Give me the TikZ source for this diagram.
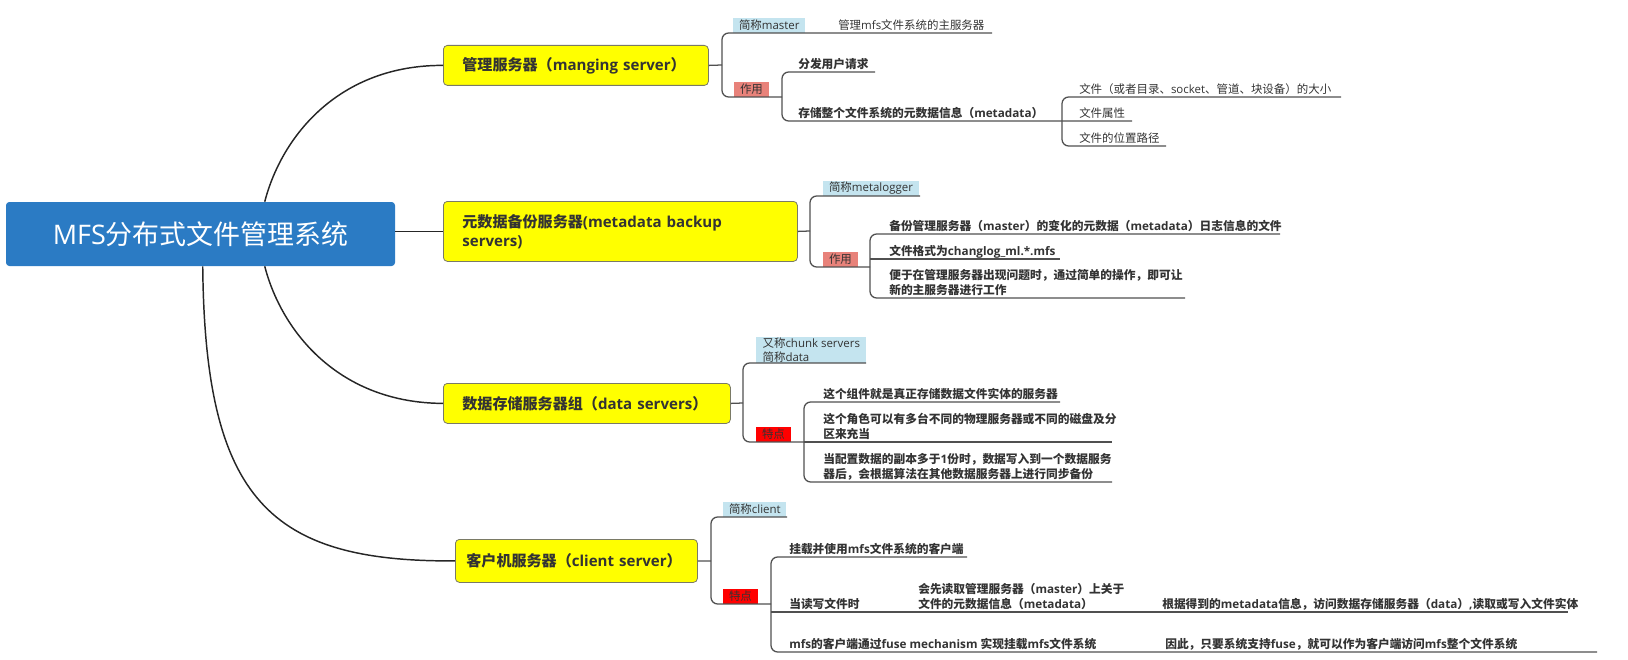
\documentclass[tikz,border=0pt]{standalone}
\usepackage{fontspec}
\setmainfont{Open Sans}
\newfontfamily\cjk{Noto Sans CJK SC}
\newfontfamily\latin{Open Sans}
\newXeTeXintercharclass\cjkclass
\makeatletter
\def\setcjkrange#1#2{\count@=#1\relax\loop\XeTeXcharclass\count@=\cjkclass\advance\count@\@ne\ifnum\count@<#2\repeat}
\makeatother
\setcjkrange{"4E00}{"A000}
\setcjkrange{"3000}{"3040}
\setcjkrange{"FF00}{"FFF0}
\XeTeXinterchartoks 0 \cjkclass={\cjk}
\XeTeXinterchartoks 4095 \cjkclass={\cjk}
\XeTeXinterchartoks \cjkclass 0={\latin}
\XeTeXinterchartoks \cjkclass 4095={\latin}
\XeTeXinterchartokenstate=1
\newcommand\mlines[1]{\begin{tabular}[b]{@{}l@{}}#1\end{tabular}}
\definecolor{rootblue}{HTML}{2B7BC4}
\definecolor{mainyellow}{HTML}{FFFF00}
\definecolor{boxgray}{HTML}{7A7A66}
\definecolor{txt}{HTML}{333333}
\definecolor{tagblue}{HTML}{C4E4EF}
\definecolor{tagsalmon}{HTML}{E8827A}
\definecolor{tagred}{HTML}{FF0000}
\definecolor{lncol}{HTML}{505050}
\begin{document}
\begin{tikzpicture}[x=0.75pt,y=-0.75pt,
  rootbox/.style={fill=rootblue, rounded corners=2.5pt, minimum width=291.75pt, minimum height=48pt, text=white, font=\fontsize{20.2pt}{24pt}\selectfont, inner sep=0pt},
  mainbox/.style={fill=mainyellow, draw=boxgray, line width=0.6pt, rounded corners=3pt, font=\bfseries\fontsize{11.3pt}{14.25pt}\selectfont, text=txt, align=left, inner xsep=14.25pt, inner ysep=0pt, anchor=north west},
  tagbox/.style={inner xsep=4.3pt, inner ysep=0.6pt, minimum height=11.25pt, anchor=south west, text=txt, font=\fontsize{8.6pt}{10.5pt}\selectfont, align=left},
  bluetag/.style={tagbox, fill=tagblue},
  salmontag/.style={tagbox, fill=tagsalmon},
  redtag/.style={tagbox, fill=tagred},
  lt/.style={inner sep=0pt, anchor=base west, text=txt, font=\fontsize{8.6pt}{11.25pt}\selectfont},
  bt/.style={inner sep=0pt, anchor=base west, text=txt, font=\fontsize{8.8pt}{11.25pt}\selectfont\bfseries},
  ln/.style={draw=lncol, line width=0.95pt},
  rc/.style={rounded corners=5pt},
  rootln/.style={draw=black!85, line width=1.1pt}
]
\useasboundingbox (0,0) rectangle (1628,660);

% root and main topics
\node[rootbox] (r) at (200.5,234) {MFS分布式文件管理系统};
\node[mainbox, minimum height=30pt, text width=170.25pt] (m1) at (443,45) {管理服务器（manging server）};
\node[mainbox, minimum height=45pt, text width=237pt] (m2) at (443,201) {元数据备份服务器(metadata backup\\servers)};
\node[mainbox, minimum height=30pt, text width=186.75pt] (m3) at (443,383) {数据存储服务器组（data servers）};
\node[mainbox, minimum height=32.25pt, text width=165pt, inner xsep=8.25pt] (m4) at (455,539) {客户机服务器（client server）};

% root connectors
\draw[rootln] ([xshift=194.25pt]r.north west) .. controls (282,135) and (340,65) .. (m1.west);
\draw[rootln] (r.east |- m2.west) -- (m2.west);
\draw[rootln] ([xshift=194.25pt]r.south west) .. controls (282,333) and (340,403) .. (m3.west);
\draw[rootln] ([xshift=147.75pt]r.south west) .. controls (205,500) and (270,562) .. (m4.west);

% ---------- group 1 ----------
\node[bluetag] (t1a) at (733,33) {简称master};
\node[lt] (t1b) at (838,29.5) {管理mfs文件系统的主服务器};
\node[salmontag] (t1c) at (734,97) {作用};
\node[bt] (t1d) at (798,68.5) {分发用户请求};
\node[bt] (t1e) at (798,117.5) {存储整个文件系统的元数据信息（metadata）};
\node[lt] (t1f) at (1079,93.5) {文件（或者目录、socket、管道、块设备）的大小};
\node[lt] (t1g) at (1079,117.5) {文件属性};
\node[lt] (t1h) at (1079,142.5) {文件的位置路径};
\coordinate (b1) at (722,65);
\draw[ln] (m1.east) -- (b1);
\draw[ln,rc] (992,33) -- (722,33) -- (722,97) -- (782,97);
\draw[ln,rc] (875,72) -- (782,72) -- (782,121) -- (1132,121);
\draw[ln,rc] (1341,97) -- (1062,97) -- (1062,146) -- (1166,146);

% ---------- group 2 ----------
\node[bluetag] (t2a) at (823,196) {简称metalogger};
\node[salmontag] (t2b) at (823,267) {作用};
\node[bt] (t2c) at (889,230.5) {备份管理服务器（master）的变化的元数据（metadata）日志信息的文件};
\node[bt] (t2d) at (889,255.5) {文件格式为changlog\_ml.*.mfs};
\node[bt] (t2e) at (889,294.5) {\mlines{便于在管理服务器出现问题时，通过简单的操作，即可让\\新的主服务器进行工作}};
\coordinate (b2) at (810,231);
\draw[ln] (m2.east) -- (b2);
\draw[ln,rc] (920,196) -- (810,196) -- (810,267) -- (870,267);
\draw[ln,rc] (1280,234) -- (870,234) -- (870,298) -- (1185,298);
\draw[ln] (870,259) -- (1060,259);

% ---------- group 3 ----------
\node[bluetag, minimum width=82.5pt] (t3a) at (756,363) {又称chunk servers\\简称data};
\node[redtag] (t3b) at (756,442) {特点};
\node[bt] (t3c) at (823,398.5) {这个组件就是真正存储数据文件实体的服务器};
\node[bt] (t3d) at (823,438.5) {\mlines{这个角色可以有多台不同的物理服务器或不同的磁盘及分\\区来充当}};
\node[bt] (t3e) at (823,478.5) {\mlines{当配置数据的副本多于1份时，数据写入到一个数据服务\\器后，会根据算法在其他数据服务器上进行同步备份}};
\coordinate (b3) at (743,403);
\draw[ln] (m3.east) -- (b3);
\draw[ln,rc] (866,363) -- (743,363) -- (743,442) -- (804,442);
\draw[ln,rc] (1060,402) -- (804,402) -- (804,482) -- (1112,482);
\draw[ln] (804,442) -- (1112,442);

% ---------- group 4 ----------
\node[bluetag] (t4a) at (723,517) {简称client};
\node[redtag] (t4b) at (723,604) {特点};
\node[bt] (t4c) at (789,553.5) {挂载并使用mfs文件系统的客户端};
\node[bt] (t4d) at (789,608.5) {当读写文件时};
\node[bt] (t4e) at (918,608.5) {\mlines{会先读取管理服务器（master）上关于\\文件的元数据信息（metadata）}};
\node[bt] (t4f) at (1162,608.5) {根据得到的metadata信息，访问数据存储服务器（data）,读取或写入文件实体};
\node[bt] (t4g) at (789,648.5) {mfs的客户端通过fuse mechanism 实现挂载mfs文件系统};
\node[bt] (t4h) at (1165,648.5) {因此，只要系统支持fuse，就可以作为客户端访问mfs整个文件系统};
\coordinate (b4) at (711,561);
\draw[ln] (m4.east) -- (b4);
\draw[ln,rc] (787,517) -- (711,517) -- (711,604) -- (771,604);
\draw[ln,rc] (967,557) -- (771,557) -- (771,652) -- (1597,652);
\draw[ln] (771,612) -- (1568,612);
\end{tikzpicture}
\end{document}
